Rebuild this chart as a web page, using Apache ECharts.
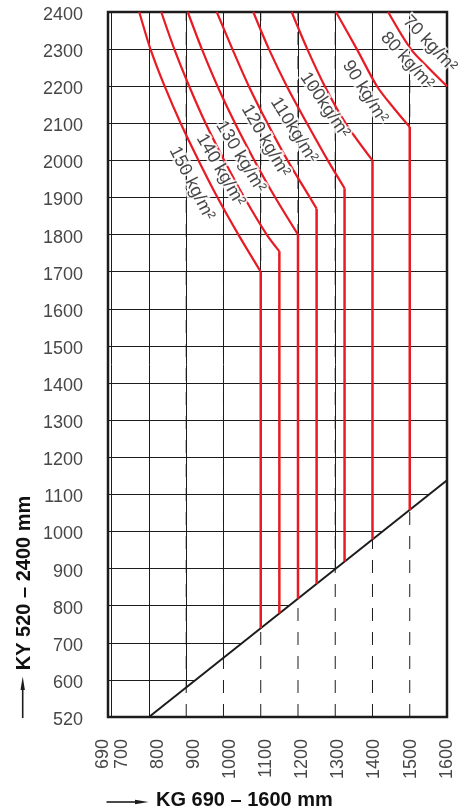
<!DOCTYPE html>
<html>
<head>
<meta charset="utf-8">
<script src="https://cdn.jsdelivr.net/npm/echarts@6/dist/echarts.min.js"></script>
<style>
  html, body { margin: 0; padding: 0; background: #fff; }
  #chart { width: 467px; height: 811px; }
</style>
</head>
<body>
<div id="chart"></div>
<script>
// Axis tick labels
const xTickLabels = ['690', '700', '800', '900', '1000', '1100', '1200', '1300', '1400', '1500', '1600'];
const yTickLabels = ['520', '600', '700', '800', '900', '1000', '1100', '1200', '1300', '1400',
  '1500', '1600', '1700', '1800', '1900', '2000', '2100', '2200', '2300', '2400'];
const xGridValues = [700, 800, 900, 1000, 1100, 1200, 1300, 1400, 1500];

// Density names, one per curve
const densityNames = ['150 kg/m²', '140 kg/m²', '130 kg/m²', '120 kg/m²', '110kg/m²',
  '100kg/m²', '90 kg/m²', '80 kg/m²', '70 kg/m²'];

// Limit curves [KG, KY]
const curve150 = [[774, 2400], [804, 2300], [842, 2200], [885, 2100], [933, 2000], [984, 1900], [1040, 1800], [1100, 1700]];
const curve140 = [[833, 2400], [868, 2300], [908, 2200], [952, 2100], [1002, 2000], [1056, 1900], [1116, 1800], [1150, 1755]];
const curve130 = [[904, 2400], [942, 2300], [984, 2200], [1031, 2100], [1083, 2000], [1139, 1900], [1200, 1800]];
const curve120 = [[982, 2400], [1024, 2300], [1068, 2200], [1118, 2100], [1172, 2000], [1232, 1900], [1250, 1870]];
const curve110 = [[1080, 2400], [1122, 2300], [1170, 2200], [1224, 2100], [1280, 2000], [1325, 1925]];
const curve100 = [[1183, 2400], [1225, 2300], [1272, 2200], [1328, 2100], [1400, 2000]];
const curve90 = [[1302, 2400], [1358, 2300], [1412, 2200], [1458, 2140], [1500, 2090]];
const curve80 = [[1442, 2400], [1503, 2300], [1550, 2250], [1600, 2200]];
const curve70 = [];

// KY where each vertical limit meets the diagonal
const footKY = [739, 779, 819, 859, 919, 979, 1058, null, null];

// Diagonal lower limit [KG, KY]
const diagonalLine = [[800, 500], [1600, 1138]];

const curves = [curve150, curve140, curve130, curve120, curve110, curve100, curve90, curve80, curve70];

// Label placement along the curves: [KG, KY, rotation]
const labelPlacement = [
  [915, 1938, -63], [992, 1974, -60], [1046, 2010, -59], [1113, 2053, -60], [1189, 2082, -58],
  [1272, 2149, -56], [1380, 2185, -58], [1493, 2269, -48], [1554, 2314, -47]
];

const RED = '#e81b24';
const INK = '#1c1c1c';
const X_MIN = 690, X_MAX = 1600, Y_MIN = 500, Y_MAX = 2400;
// The tick-label row runs on its own slightly stretched scale
const LABEL_AXIS_MIN = 662, LABEL_AXIS_MAX = 1601;
const xLeadLabel = xTickLabels[0];
const xRowLabels = xTickLabels.slice(1);
const xRowSlots = xRowLabels.map(Number);

const series = [];

// White-filled diagonal: hides the grid below the limit line
series.push({
  type: 'line', name: 'limit', data: diagonalLine, symbol: 'none', z: 2,
  lineStyle: { color: INK, width: 2 },
  areaStyle: { color: '#fff', opacity: 1, origin: 'start' },
  silent: true
});

// Dashed grid columns below the diagonal
const footX = diagonalLine[0][0];
xGridValues.filter(v => v > footX).forEach(v => {
  series.push({
    type: 'line', name: 'dash ' + v, data: [[v, Y_MIN], [v, Y_MAX]], symbol: 'none', z: 3, silent: true,
    lineStyle: { color: INK, width: 1, type: [13, 11] }
  });
});

curves.forEach((c, i) => {
  if (!c.length) return;
  series.push({
    type: 'line', name: densityNames[i], data: c, smooth: 0.3, symbol: 'none', z: 6,
    lineStyle: { color: RED, width: 2.2 }, silent: true
  });
  if (footKY[i] != null) {
    const corner = c[c.length - 1];
    series.push({
      type: 'line', name: densityNames[i] + ' limit', data: [corner, [corner[0], footKY[i]]],
      symbol: 'none', z: 6, lineStyle: { color: RED, width: 2.5 }, silent: true
    });
  }
});

// Curve labels
series.push({
  type: 'scatter', name: 'labels', symbolSize: 0, z: 10, silent: true,
  data: labelPlacement.map((p, i) => ({
    value: [p[0], p[1]],
    label: {
      show: true, formatter: densityNames[i], position: 'inside', rotate: p[2],
      align: 'center', verticalAlign: 'middle',
      color: '#161616', fontSize: 18, fontWeight: 'normal', fontFamily: 'Liberation Sans',
      textBorderColor: '#fff', textBorderWidth: 4
    }
  }))
});

const tickFont = { fontFamily: 'Liberation Sans', fontSize: 18, color: '#474747' };
const hiddenAxis = {
  axisLine: { show: false }, axisTick: { show: false }, splitLine: { show: false }, axisLabel: { show: false }
};

const option = {
  animation: false,
  backgroundColor: '#fff',
  grid: [
    {
      left: 108, right: 20, top: 12, bottom: 94, show: true, z: 5,
      borderColor: INK, borderWidth: 2.5, backgroundColor: 'transparent'
    },
    // carrier for the first tick label, set a little to the left of the plot edge
    { left: 103, right: 20, top: 12, bottom: 94, show: false }
  ],
  xAxis: [
    {
      type: 'value', min: X_MIN, max: X_MAX, position: 'bottom',
      axisLine: { show: false },
      axisTick: { show: false, customValues: xGridValues },
      axisLabel: { show: false },
      splitLine: { show: true, lineStyle: { color: INK, width: 1 } }
    },
    {
      type: 'value', min: LABEL_AXIS_MIN, max: LABEL_AXIS_MAX, position: 'bottom',
      axisLine: { show: false }, axisTick: { show: false }, splitLine: { show: false },
      axisLabel: Object.assign({
        show: true, rotate: 90, margin: 22,
        customValues: xRowSlots,
        formatter: v => xRowLabels[xRowSlots.indexOf(v)]
      }, tickFont)
    },
    Object.assign({}, hiddenAxis, {
      type: 'value', gridIndex: 1, min: X_MIN, max: X_MAX, position: 'bottom',
      axisLabel: Object.assign({
        show: true, rotate: 90, margin: 22,
        customValues: [Number(xLeadLabel)],
        formatter: () => xLeadLabel
      }, tickFont)
    })
  ],
  yAxis: [
    {
      type: 'value', min: Y_MIN, max: Y_MAX, interval: 100,
      axisLine: { show: false }, axisTick: { show: false },
      axisLabel: Object.assign({
        margin: 25, verticalAlign: 'top', lineHeight: 6,
        formatter: (v, idx) => yTickLabels[idx]
      }, tickFont),
      splitLine: { show: true, lineStyle: { color: INK, width: 1 } }
    },
    Object.assign({}, hiddenAxis, { type: 'value', gridIndex: 1, min: Y_MIN, max: Y_MAX })
  ],
  graphic: [
    { type: 'line', shape: { x1: 106.5, y1: 802, x2: 138, y2: 802 }, style: { stroke: INK, lineWidth: 1.6 } },
    { type: 'polygon', shape: { points: [[135, 799.8], [148.5, 802], [135, 804.2]] }, style: { fill: INK } },
    {
      type: 'text', left: 156, top: 790,
      style: { text: 'KG 690 – 1600 mm', font: 'bold 20px "Liberation Sans"', fill: '#111' }
    },
    { type: 'line', shape: { x1: 22.7, y1: 718, x2: 22.7, y2: 688 }, style: { stroke: INK, lineWidth: 1.6 } },
    { type: 'polygon', shape: { points: [[20.5, 690], [22.7, 676.5], [24.9, 690]] }, style: { fill: INK } },
    {
      type: 'text', x: 24, y: 583, rotation: Math.PI / 2,
      style: {
        text: 'KY 520 – 2400 mm', font: 'bold 20px "Liberation Sans"', fill: '#111',
        align: 'center', verticalAlign: 'middle'
      }
    }
  ],
  series: series
};

const chart = echarts.init(document.getElementById('chart'), null, { renderer: 'canvas' });
chart.setOption(option);
</script>
</body>
</html>
